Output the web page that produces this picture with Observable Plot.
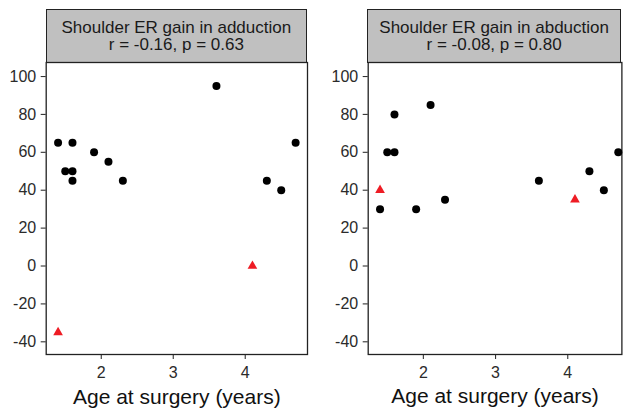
<!DOCTYPE html>
<html>
<head>
<meta charset="utf-8">
<script src="https://cdn.jsdelivr.net/npm/d3@7"></script>
<script src="https://cdn.jsdelivr.net/npm/@observablehq/plot@0.6"></script>
<style>
  html, body { margin: 0; padding: 0; background: #fff; overflow: hidden; }
  body { width: 623px; height: 409px; position: relative; font-family: "Liberation Sans", Arial, sans-serif; }
  .strip { position: absolute; box-sizing: border-box; background: #c0c0c0; border: 1.3px solid #222;
           text-align: center; font-size: 17px; line-height: 17.4px; color: #1a1a1a; padding-top: 9px; }
  .panel { position: absolute; }
</style>
</head>
<body>
<script>
// ---- data ----
const stripTitles = ["Shoulder ER gain in adduction", "Shoulder ER gain in abduction"];
const stripStats = ["r = -0.16, p = 0.63", "r = -0.08, p = 0.80"];
const xLabel = "Age at surgery (years)";
const xTicks = [2, 3, 4];
const yTicks = [-40, -20, 0, 20, 40, 60, 80, 100];

// adduction panel
const addAge = [1.4, 1.5, 1.6, 1.6, 1.6, 1.9, 2.1, 2.3, 3.6, 4.3, 4.5, 4.7];
const addGain = [65, 50, 65, 50, 45, 60, 55, 45, 95, 45, 40, 65];
const addRedAge = [1.4, 4.1];
const addRedGain = [-35, 0];

// abduction panel
const abdAge = [1.4, 1.5, 1.6, 1.6, 1.9, 2.1, 2.3, 3.6, 4.3, 4.5, 4.7];
const abdGain = [30, 60, 60, 80, 30, 85, 35, 45, 50, 40, 60];
const abdRedAge = [1.4, 4.1];
const abdRedGain = [40, 35];

const toRows = (xs, ys) => xs.map((x, i) => ({x, y: ys[i]}));

function panel({left, plotLeft, plotWidth, xDomain, black, red, title, stats}) {
  const marginLeft = 45.7;
  const svgLeft = plotLeft - marginLeft;
  const strip = document.createElement("div");
  strip.className = "strip";
  strip.style.left = plotLeft + "px";
  strip.style.top = "9px";
  strip.style.width = plotWidth + "px";
  strip.style.height = "54px";
  strip.innerHTML = `<div>${title}</div><div>${stats}</div>`;
  document.body.appendChild(strip);

  const chart = Plot.plot({
    width: marginLeft + plotWidth + 2,
    height: 292 + 55,
    marginLeft,
    marginRight: 2,
    marginTop: 0,
    marginBottom: 55,
    style: {fontSize: "16px", fontFamily: "'Liberation Sans', Arial, sans-serif", color: "#2b2b2b", background: "transparent", overflow: "visible"},
    x: {domain: xDomain},
    y: {domain: [-46.7, 107.4]},
    marks: [
      Plot.axisX({ticks: xTicks, tickSize: 5, tickPadding: 7, label: null, tickFormat: d => String(d), stroke: "#333", strokeWidth: 1.1, fill: "#2b2b2b"}),
      Plot.axisY({ticks: yTicks, tickSize: 5, tickPadding: 5, label: null, tickFormat: d => String(d), stroke: "#333", strokeWidth: 1.1, fill: "#2b2b2b"}),
      Plot.frame({stroke: "#222", strokeWidth: 1.3}),
      Plot.dot(black, {x: "x", y: "y", r: 4, fill: "black", stroke: null}),
      Plot.dot(red, {x: "x", y: "y", r: 3.6, symbol: "triangle", fill: "#ee1c24", stroke: null}),
      Plot.text([xLabel], {text: d => d, frameAnchor: "bottom", lineAnchor: "bottom", dy: 49, fontSize: 21, fill: "#111"})
    ]
  });
  chart.classList.add("panel");
  chart.style.left = svgLeft + "px";
  chart.style.top = "62px";
  document.body.appendChild(chart);
}

panel({
  plotLeft: 45.7, plotWidth: 261.3, xDomain: [1.235, 4.865],
  black: toRows(addAge, addGain), red: toRows(addRedAge, addRedGain),
  title: stripTitles[0], stats: stripStats[0]
});
panel({
  plotLeft: 367.3, plotWidth: 253.7, xDomain: [1.236, 1.236 + 253.7 / 72.2],
  black: toRows(abdAge, abdGain), red: toRows(abdRedAge, abdRedGain),
  title: stripTitles[1], stats: stripStats[1]
});
</script>
</body>
</html>
